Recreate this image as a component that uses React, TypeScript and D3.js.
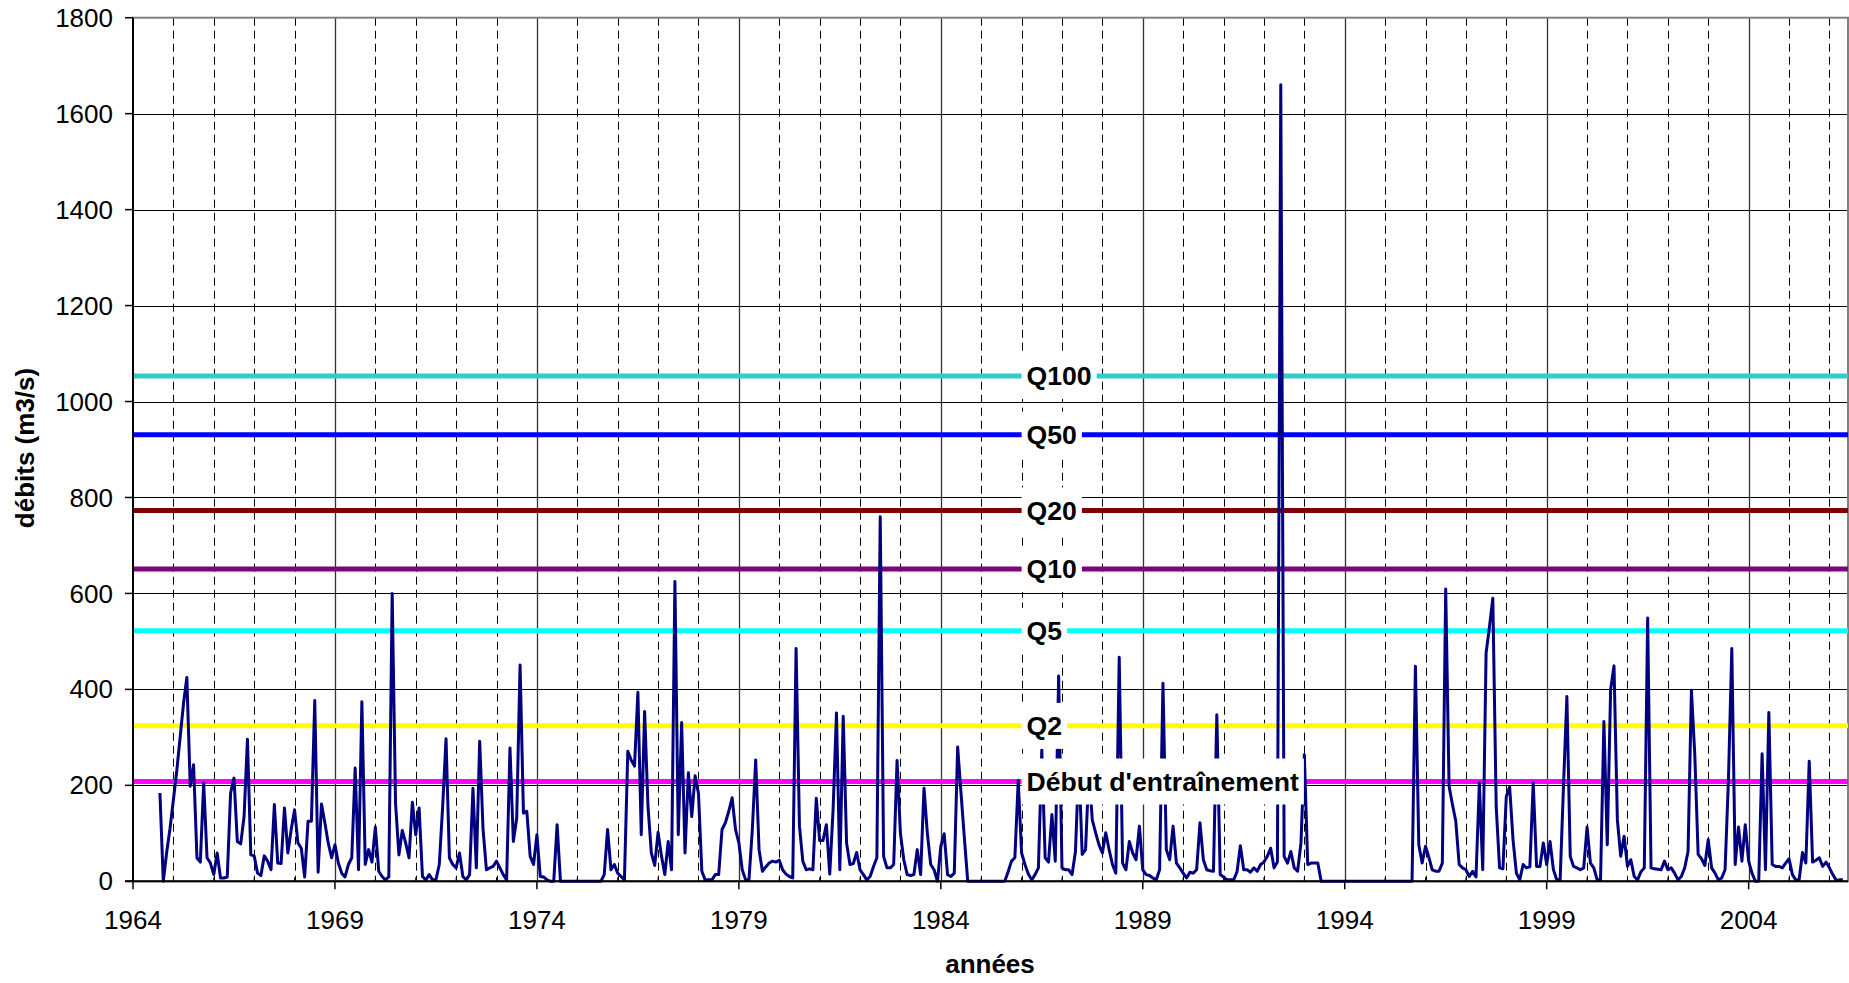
import React, { useEffect, useRef } from 'react'
import * as d3 from 'd3'

// débits mensuels (m3/s), premier mois = septembre 1964
const firstYear = 1964
const firstMonth = 8

const debits1960s = [
  184, 0, 60, 110,
  170, 230, 300, 370, 425, 198, 243, 49, 40, 205, 49, 38,
  14, 59, 7, 7, 9, 184, 215, 83, 78, 135, 296, 55,
  53, 17, 12, 53, 42, 24, 160, 38, 37, 153, 59, 108,
  149, 80, 69, 9, 125, 125, 377, 19, 161, 122, 80, 49,
  76, 38, 17, 9, 35, 49, 236, 24, 374, 35, 66, 40,
]
const debits1970s = [
  113, 21, 10, 3, 9, 600, 163, 55, 106, 80, 49, 165,
  97, 153, 10, 3, 14, 3, 3, 35, 156, 297, 49, 35,
  28, 59, 10, 3, 14, 194, 28, 292, 108, 24, 28, 31,
  42, 28, 14, 3, 278, 83, 132, 451, 142, 146, 52, 35,
  97, 10, 9, 3, 0, 0, 118, 0, 0, 0, 0, 0,
  0, 0, 0, 0, 0, 0, 0, 0, 14, 108, 24, 35,
  17, 10, 3, 271, 253, 240, 394, 97, 354, 156, 59, 33,
  102, 53, 14, 83, 24, 625, 97, 331, 59, 226, 135, 220,
  183, 21, 3, 3, 3, 14, 14, 108, 122, 146, 174, 108,
  80, 24, 3, 3, 108, 253, 66, 21, 30, 38, 42, 40,
]
const debits1980s = [
  44, 24, 15, 10, 7, 485, 115, 42, 24, 26, 24, 173,
  85, 85, 118, 15, 150, 351, 24, 344, 80, 35, 37, 60,
  24, 14, 3, 10, 31, 49, 760, 52, 28, 28, 35, 252,
  100, 45, 14, 12, 14, 66, 14, 194, 100, 35, 24, 0,
  73, 99, 14, 10, 17, 280, 184, 90, 0, 0, 0, 0,
  0, 0, 0, 0, 0, 0, 0, 0, 20, 42, 49, 210,
  59, 35, 15, 3, 14, 28, 274, 49, 40, 139, 42, 428,
  28, 24, 24, 14, 62, 250, 56, 66, 230, 128, 101, 76,
  59, 101, 66, 35, 17, 467, 38, 24, 83, 59, 45, 115,
  24, 14, 12, 7, 3, 24, 413, 66, 45, 115, 38, 28,
]
const debits1990s = [
  17, 7, 19, 17, 24, 122, 45, 24, 22, 21, 347, 14,
  9, 3, 3, 3, 20, 74, 24, 24, 19, 28, 21, 35,
  40, 52, 69, 28, 40, 1660, 52, 38, 62, 28, 21, 80,
  264, 35, 38, 38, 38, 0, 0, 0, 0, 0, 0, 0,
  0, 0, 0, 0, 0, 0, 0, 0, 0, 0, 0, 0,
  0, 0, 0, 0, 0, 0, 0, 0, 0, 448, 76, 38,
  73, 50, 24, 21, 21, 38, 609, 198, 160, 125, 35, 28,
  24, 10, 21, 9, 205, 24, 476, 530, 590, 156, 28, 26,
  177, 197, 87, 17, 3, 35, 28, 30, 205, 31, 31, 80,
  35, 83, 24, 3, 3, 200, 385, 52, 31, 28, 24, 28,
]
const debits2000s = [
  113, 38, 28, 3, 3, 333, 76, 400, 449, 128, 52, 94,
  31, 45, 10, 3, 20, 28, 549, 28, 26, 25, 24, 42,
  24, 28, 17, 3, 10, 28, 62, 398, 264, 56, 47, 33,
  87, 28, 17, 3, 7, 24, 212, 485, 35, 113, 42, 118,
  42, 17, 0, 0, 266, 24, 352, 35, 31, 31, 28, 38,
  47, 14, 3, 3, 60, 38, 250, 40, 44, 49, 31, 40,
  28, 14, 2, 3, 3,
]

// débits caractéristiques
const seuilNoms = ['Q100', 'Q50', 'Q20', 'Q10', 'Q5', 'Q2', "Début d'entraînement"]
const seuilValeurs = [1053, 931, 773, 651, 522, 324, 208]
const seuilCouleurs = ['#33CCCC', '#0000FF', '#800000', '#800080', '#00FFFF', '#FFFF00', '#FF00FF']
const labelYear = 1986

const yTicks = [0, 200, 400, 600, 800, 1000, 1200, 1400, 1600, 1800]
const yearLabels = [1964, 1969, 1974, 1979, 1984, 1989, 1994, 1999, 2004]

const W = 1849
const H = 983
const FONT = '"Liberation Sans", Arial, sans-serif'

const App = () => {
  const ref = useRef<SVGSVGElement>(null)

  useEffect(() => {
    const svg = d3.select(ref.current)
    svg.selectAll('*').remove()

    const left = 133, right = 1848, top = 17.7, bottom = 881.3
    const x = d3.scaleLinear().domain([1964, 2006.46]).range([left, right])
    const y = d3.scaleLinear().domain([0, 1800]).range([bottom, top])

    const debits = [...debits1960s, ...debits1970s, ...debits1980s, ...debits1990s, ...debits2000s]
    const data = debits.map((v, i) => ({ t: firstYear + (firstMonth + i) / 12, v }))

    svg.append('rect').attr('width', W).attr('height', H).attr('fill', '#fff')

    // horizontal grid
    svg.append('g')
      .selectAll('line')
      .data(yTicks.filter(d => d > 0 && d < 1800))
      .join('line')
      .attr('x1', left).attr('x2', right)
      .attr('y1', d => Math.round(y(d)) + 0.5).attr('y2', d => Math.round(y(d)) + 0.5)
      .attr('stroke', '#000').attr('stroke-width', 1)

    // yearly dashed grid
    const years = d3.range(1965, 2007).filter(d => (d - 1964) % 5 !== 0)
    svg.append('g')
      .selectAll('line')
      .data(years)
      .join('line')
      .attr('x1', d => Math.round(x(d)) + 0.5).attr('x2', d => Math.round(x(d)) + 0.5)
      .attr('y1', top).attr('y2', bottom)
      .attr('stroke', '#000').attr('stroke-width', 1)
      .attr('stroke-dasharray', '8,5')

    // 5-year solid grid
    svg.append('g')
      .selectAll('line')
      .data(yearLabels.filter(d => d > 1964))
      .join('line')
      .attr('x1', d => Math.round(x(d)) + 0.5).attr('x2', d => Math.round(x(d)) + 0.5)
      .attr('y1', top).attr('y2', bottom)
      .attr('stroke', '#333').attr('stroke-width', 1.3)

    // plot border
    svg.append('rect')
      .attr('x', left).attr('y', top)
      .attr('width', right - left).attr('height', bottom - top)
      .attr('fill', 'none').attr('stroke', '#808080').attr('stroke-width', 2)

    // reference lines
    svg.append('g')
      .selectAll('line')
      .data(seuilValeurs)
      .join('line')
      .attr('x1', left).attr('x2', right)
      .attr('y1', d => y(d)).attr('y2', d => y(d))
      .attr('stroke', (d, i) => seuilCouleurs[i]).attr('stroke-width', 5)

    // data line
    const line = d3.line<{ t: number, v: number }>()
      .x(d => x(d.t))
      .y(d => y(d.v))
    svg.append('path')
      .datum(data)
      .attr('d', line)
      .attr('fill', 'none')
      .attr('stroke', '#000080')
      .attr('stroke-width', 3)
      .attr('stroke-linejoin', 'round')

    // axes
    svg.append('line')
      .attr('x1', left).attr('x2', left).attr('y1', top).attr('y2', bottom + 1)
      .attr('stroke', '#000').attr('stroke-width', 2)
    svg.append('line')
      .attr('x1', left - 8).attr('x2', right).attr('y1', bottom).attr('y2', bottom)
      .attr('stroke', '#000').attr('stroke-width', 2)

    svg.append('g')
      .selectAll('line')
      .data(yTicks)
      .join('line')
      .attr('x1', left - 8).attr('x2', left)
      .attr('y1', d => y(d)).attr('y2', d => y(d))
      .attr('stroke', '#000').attr('stroke-width', 1.5)

    svg.append('g')
      .selectAll('line')
      .data(yearLabels)
      .join('line')
      .attr('x1', d => x(d)).attr('x2', d => x(d))
      .attr('y1', bottom).attr('y2', bottom + 8)
      .attr('stroke', '#000').attr('stroke-width', 1.5)

    svg.append('g')
      .selectAll('line')
      .data(years)
      .join('line')
      .attr('x1', d => x(d)).attr('x2', d => x(d))
      .attr('y1', bottom - 4).attr('y2', bottom)
      .attr('stroke', '#000').attr('stroke-width', 1)

    svg.append('g')
      .selectAll('text')
      .data(yTicks)
      .join('text')
      .text(d => d)
      .attr('x', left - 20)
      .attr('y', d => y(d))
      .attr('dy', '0.35em')
      .attr('text-anchor', 'end')
      .style('font-family', FONT).style('font-size', '26px')

    svg.append('g')
      .selectAll('text')
      .data(yearLabels)
      .join('text')
      .text(d => d)
      .attr('x', d => x(d))
      .attr('y', 929)
      .attr('text-anchor', 'middle')
      .style('font-family', FONT).style('font-size', '26px')

    svg.append('text')
      .text('années')
      .attr('x', 990).attr('y', 973)
      .attr('text-anchor', 'middle')
      .style('font-family', FONT).style('font-size', '26px').style('font-weight', 'bold')

    svg.append('text')
      .text('débits (m3/s)')
      .attr('transform', 'translate(34,448) rotate(-90)')
      .attr('text-anchor', 'middle')
      .style('font-family', FONT).style('font-size', '26px').style('font-weight', 'bold')

    // labels with white boxes
    const labels = svg.append('g')
    seuilNoms.forEach((name, i) => {
      const lg = labels.append('g')
      const rect = lg.append('rect')
      const txt = lg.append('text')
        .text(name)
        .attr('x', x(labelYear) + 5)
        .attr('y', y(seuilValeurs[i]))
        .attr('dy', '0.35em')
        .style('font-family', FONT).style('font-size', '26.6px').style('font-weight', 'bold')
      const w = (txt.node() as SVGTextElement).getComputedTextLength()
      rect.attr('x', x(labelYear)).attr('y', y(seuilValeurs[i]) - 23)
        .attr('width', w + 10).attr('height', 46)
        .attr('fill', '#fff')
    })
  }, [])

  return (
    <svg ref={ref} width={W} height={H} style={{ position: 'absolute', left: 0, top: 0 }} />
  )
}

export default App
